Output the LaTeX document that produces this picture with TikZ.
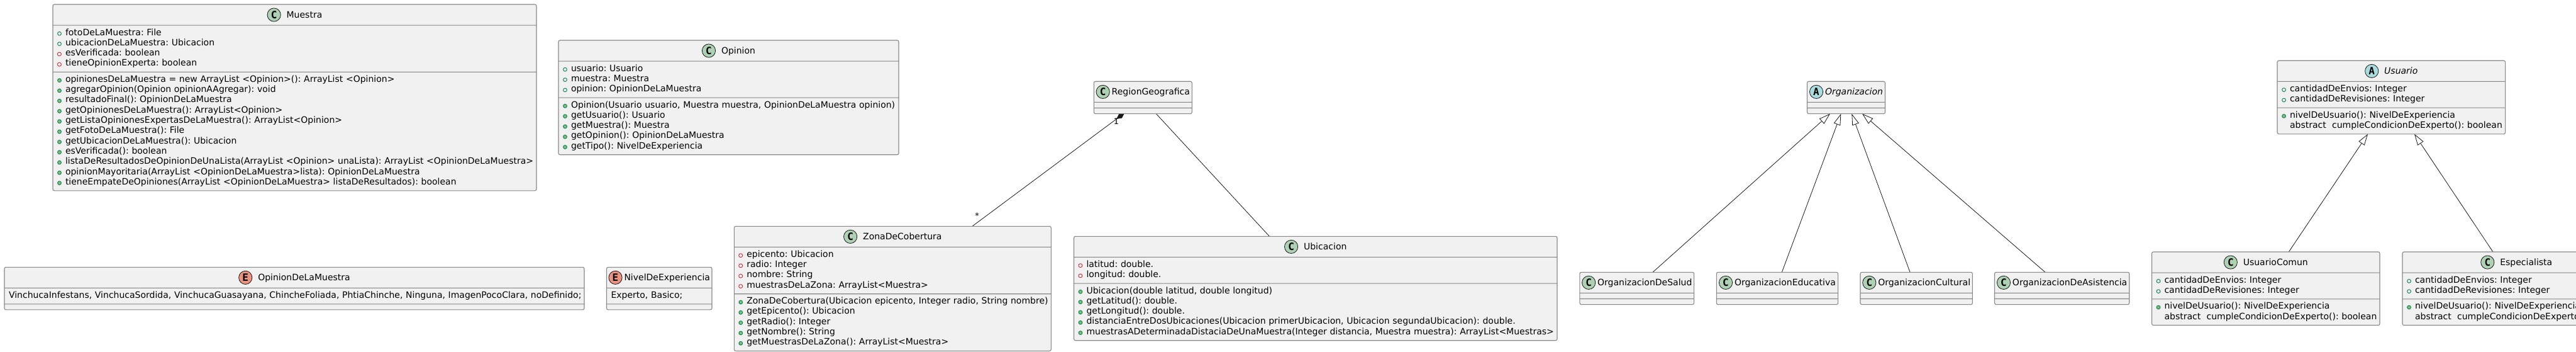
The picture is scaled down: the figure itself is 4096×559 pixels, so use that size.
\documentclass[tikz,border=0pt]{standalone}
\usepackage{fontspec}
\setmainfont{DejaVu Sans}
\setmonofont{DejaVu Sans Mono}
\usetikzlibrary{arrows.meta,shapes.multipart,backgrounds}
\definecolor{umlfill}{RGB}{241,241,241}
\definecolor{umlframe}{RGB}{136,136,136}
\definecolor{umlline}{RGB}{24,24,24}
\definecolor{iconc}{RGB}{173,209,178}
\definecolor{icona}{RGB}{169,220,223}
\definecolor{icone}{RGB}{235,147,127}
\definecolor{pubdraw}{RGB}{3,128,72}
\definecolor{pubfill}{RGB}{132,190,132}
\definecolor{privdraw}{RGB}{200,41,48}
\frenchspacing
\newcommand{\clsicon}[2]{\tikz[x=1pt,y=1pt,baseline=-5pt]{\path (0,-11) rectangle (22,11);
  \filldraw[draw=umlline,fill=#1,line width=.8pt] (11,0) circle (10.6);}%
  \hspace{-22pt}\makebox[22pt]{\raisebox{-.8pt}{\fontsize{16}{16}\ttfamily\bfseries #2}}}
\newcommand{\clshead}[4]{\makebox[\hsize]{\clsicon{#1}{#2}\hspace{#3}#4\rule[-7pt]{0pt}{24pt}}}
\newcommand{\rowfit}{\rightskip=-90pt\relax\strut}
\newcommand{\visbox}[1]{\rowfit\makebox[13pt][l]{\tikz[x=1pt,y=1pt,baseline=-2.7pt]{\path (0,0) rectangle (7,0.1);#1}}}
\newcommand{\fpub}{\visbox{\draw[pubdraw,line width=.9pt] (3.5,0) circle (2.9);}}
\newcommand{\mpub}{\visbox{\filldraw[draw=pubdraw,fill=pubfill,line width=.9pt] (3.5,0) circle (2.9);}}
\newcommand{\fpriv}{\visbox{\draw[privdraw,line width=.9pt] (0.5,-2.8) rectangle (6.3,2.8);}}
\newcommand{\mnone}{\rowfit\hspace*{13pt}}
\tikzset{
  cls/.style={rectangle split,rectangle split parts=3,anchor=north west,draw=umlframe,
              fill=umlfill,line width=1.1pt,rounded corners=2.5pt,align=left,text=black,
              inner xsep=7pt,inner ysep=4pt,outer sep=0pt,text width=#1,
              rectangle split empty part height=0pt,rectangle split empty part depth=0pt,
              font=\fontsize{14}{16.3}\selectfont},
  inh/.style={-{Triangle[open,fill=white,length=18pt,width=11pt]},umlline,line width=.8pt},
  comp/.style={-{Diamond[length=16pt,width=8pt,fill=umlline]},umlline,line width=.8pt},
  assoc/.style={umlline,line width=.8pt},
  mult/.style={font=\fontsize{13}{13}\selectfont,inner sep=0pt}
}
\begin{document}
\begin{tikzpicture}[x=1pt,y=-1pt]
  \path[use as bounding box,clip] (0,0) rectangle (4096,559);
  % classes on the left
  \node[cls=755pt] (muestra) at (84,7) {\clshead{iconc}{C}{9pt}{Muestra}
    \nodepart{two}\fpub fotoDeLaMuestra: File\\
    \fpub ubicacionDeLaMuestra: Ubicacion\\
    \fpriv esVerificada: boolean\\
    \fpriv tieneOpinionExperta: boolean
    \nodepart{three}\mpub opinionesDeLaMuestra = new ArrayList <Opinion>(): ArrayList <Opinion>\\
    \mpub agregarOpinion(Opinion opinionAAgregar): void\\
    \mpub resultadoFinal(): OpinionDeLaMuestra\\
    \mpub getOpinionesDeLaMuestra(): ArrayList<Opinion>\\
    \mpub getListaOpinionesExpertasDeLaMuestra(): ArrayList<Opinion>\\
    \mpub getFotoDeLaMuestra(): File\\
    \mpub getUbicacionDeLaMuestra(): Ubicacion\\
    \mpub esVerificada(): boolean\\
    \mpub listaDeResultadosDeOpinionDeUnaLista(ArrayList <Opinion> unaLista): ArrayList <OpinionDeLaMuestra>\\
    \mpub opinionMayoritaria(ArrayList <OpinionDeLaMuestra>lista): OpinionDeLaMuestra\\
    \mpub tieneEmpateDeOpiniones(ArrayList <OpinionDeLaMuestra> listaDeResultados): boolean\par};
  \node[cls=527pt] (opinion) at (888,64) {\clshead{iconc}{C}{9pt}{Opinion}
    \nodepart{two}\fpub usuario: Usuario\\
    \fpub muestra: Muestra\\
    \fpub opinion: OpinionDeLaMuestra
    \nodepart{three}\mpub Opinion(Usuario usuario, Muestra muestra, OpinionDeLaMuestra opinion)\\
    \mpub getUsuario(): Usuario\\
    \mpub getMuestra(): Muestra\\
    \mpub getOpinion(): OpinionDeLaMuestra\\
    \mpub getTipo(): NivelDeExperiencia\par};
  % enums
  \node[cls=908pt] (opinionenum) at (7,424.3) {\clshead{icone}{E}{9pt}{OpinionDeLaMuestra}
    \nodepart{two}\rowfit VinchucaInfestans, VinchucaSordida, VinchucaGuasayana, ChincheFoliada, PhtiaChinche, Ninguna, ImagenPocoClara, noDefinido;\par
    \nodepart{three}};
  \node[cls=153.5pt] (nivel) at (964.5,424.3) {\clshead{icone}{E}{3pt}{NivelDeExperiencia}
    \nodepart{two}\rowfit Experto, Basico;\par
    \nodepart{three}};
  % region
  \node[cls=142pt] (region) at (1739.3,129.3) {\clshead{iconc}{C}{3pt}{RegionGeografica}
    \nodepart{two}
    \nodepart{three}};
  \node[cls=490pt] (zona) at (1167.3,359.3) {\clshead{iconc}{C}{9pt}{ZonaDeCobertura}
    \nodepart{two}\fpriv epicento: Ubicacion\\
    \fpriv radio: Integer\\
    \fpriv nombre: String\\
    \fpriv muestrasDeLaZona: ArrayList<Muestra>
    \nodepart{three}\mpub ZonaDeCobertura(Ubicacion epicento, Integer radio, String nombre)\\
    \mpub getEpicento(): Ubicacion\\
    \mpub getRadio(): Integer\\
    \mpub getNombre(): String\\
    \mpub getMuestrasDeLaZona(): ArrayList<Muestra>\par};
  \node[cls=754.5pt] (ubicacion) at (1707.5,375.3) {\clshead{iconc}{C}{9pt}{Ubicacion}
    \nodepart{two}\fpriv latitud: double.\\
    \fpriv longitud: double.
    \nodepart{three}\mpub Ubicacion(double latitud, double longitud)\\
    \mpub getLatitud(): double.\\
    \mpub getLongitud(): double.\\
    \mpub distanciaEntreDosUbicaciones(Ubicacion primerUbicacion, Ubicacion segundaUbicacion): double.\\
    \mpub muestrasADeterminadaDistaciaDeUnaMuestra(Integer distancia, Muestra muestra): ArrayList<Muestras>\par};
  % organizaciones
  \node[cls=110pt] (organizacion) at (2873.5,129.3) {\clshead{icona}{A}{3pt}{\textit{Organizacion}}
    \nodepart{two}
    \nodepart{three}};
  \node[cls=167.7pt] (salud) at (2511.9,432.3) {\clshead{iconc}{C}{3pt}{OrganizacionDeSalud}
    \nodepart{two}
    \nodepart{three}};
  \node[cls=179.3pt] (educativa) at (2729.3,432.3) {\clshead{iconc}{C}{3pt}{OrganizacionEducativa}
    \nodepart{two}
    \nodepart{three}};
  \node[cls=164.4pt] (cultural) at (2958,432.3) {\clshead{iconc}{C}{3pt}{OrganizacionCultural}
    \nodepart{two}
    \nodepart{three}};
  \node[cls=200.2pt] (asistencia) at (3171.5,432.3) {\clshead{iconc}{C}{3pt}{OrganizacionDeAsistencia}
    \nodepart{two}
    \nodepart{three}};
  % usuarios
  \node[cls=348.6pt] (usuario) at (3621,96.3) {\clshead{icona}{A}{9pt}{\textit{Usuario}}
    \nodepart{two}\fpub cantidadDeEnvios: Integer\\
    \fpub cantidadDeRevisiones: Integer
    \nodepart{three}\mpub nivelDeUsuario(): NivelDeExperiencia\\
    \mnone abstract\ \ cumpleCondicionDeExperto(): boolean\par};
  \node[cls=348.5pt] (comun) at (3421.5,400) {\clshead{iconc}{C}{9pt}{UsuarioComun}
    \nodepart{two}\fpub cantidadDeEnvios: Integer\\
    \fpub cantidadDeRevisiones: Integer
    \nodepart{three}\mpub nivelDeUsuario(): NivelDeExperiencia\\
    \mnone abstract\ \ cumpleCondicionDeExperto(): boolean\par};
  \node[cls=348.5pt] (especialista) at (3820,400) {\clshead{iconc}{C}{9pt}{Especialista}
    \nodepart{two}\fpub cantidadDeEnvios: Integer\\
    \fpub cantidadDeRevisiones: Integer
    \nodepart{three}\mpub nivelDeUsuario(): NivelDeExperiencia\\
    \mnone abstract\ \ cumpleCondicionDeExperto(): boolean\par};
  % connectors
  \begin{scope}[on background layer]
    \draw[comp] ([xshift=126.7pt]zona.north) -- ([xshift=-29.3pt,yshift=1.1pt]region.south);
    \draw[assoc] ([xshift=-73.35pt]ubicacion.north) -- ([xshift=21pt]region.south);
    \draw[inh] ([xshift=25.25pt]salud.north) -- ([xshift=-25.5pt]organizacion.south);
    \draw[inh] ([xshift=7.35pt]educativa.north) -- ([xshift=-8.2pt]organizacion.south);
    \draw[inh] ([xshift=-10.2pt]cultural.north) -- ([xshift=8.8pt]organizacion.south);
    \draw[inh] ([xshift=-26.7pt]asistencia.north) -- ([xshift=25.5pt]organizacion.south);
    \draw[inh] ([xshift=36.55pt]comun.north) -- ([xshift=-37.3pt]usuario.south);
    \draw[inh] ([xshift=-37.35pt]especialista.north) -- ([xshift=36.6pt]usuario.south);
  \end{scope}
  \node[mult] (regionuno) at (1775,192.7) {1};
  \node[mult] (zonamuchos) at (1553.7,343) {*};
\end{tikzpicture}
\end{document}
